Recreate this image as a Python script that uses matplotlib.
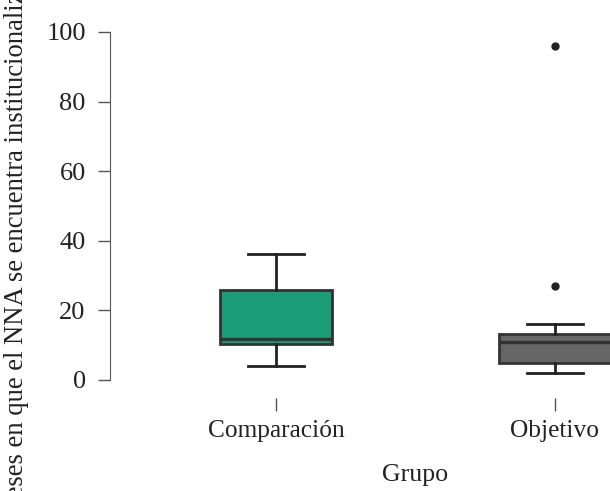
import matplotlib
matplotlib.use('Agg')
import matplotlib.pyplot as plt

# group summaries (months institutionalised)
grupos = ['Comparación', 'Objetivo']
colores = ['#1b9e77', '#666666']
stats = [
    dict(label='Comparación', whislo=4.0, q1=10.4, med=11.9, q3=25.9, whishi=36.2, fliers=[]),
    dict(label='Objetivo', whislo=2.0, q1=4.9, med=10.9, q3=13.2, whishi=16.1, fliers=[27.0, 96.0]),
]
yticks = [0, 20, 40, 60, 80, 100]

W, H = 610, 491
fig = plt.figure(figsize=(W / 100, H / 100), dpi=100)
plt.rcParams['font.family'] = ['Liberation Serif', 'DejaVu Serif']

# axes placed in pixel terms
left, right, top, bottom = 110, 610, 20, 398
ax = fig.add_axes([left / W, 1 - bottom / H, (right - left) / W, (bottom - top) / H])

bp = ax.bxp(stats, positions=[1, 2], widths=0.4, patch_artist=True,
            showfliers=True,
            boxprops=dict(edgecolor='#333333', linewidth=2),
            medianprops=dict(color='#333333', linewidth=2.5),
            whiskerprops=dict(color='#222222', linewidth=2),
            capprops=dict(color='#222222', linewidth=2),
            flierprops=dict(marker='o', markerfacecolor='#222222',
                            markeredgecolor='#222222', markersize=5))
for patch, c in zip(bp['boxes'], colores):
    patch.set_facecolor(c)
for cap in bp['caps']:
    xd = cap.get_xdata()
    mid = (xd[0] + xd[1]) / 2
    cap.set_xdata([mid - 0.1, mid + 0.1])

px_per_unit = (380 - 32) / 100
ax.set_ylim(-(bottom - 380) / px_per_unit, 100 + (32 - top) / px_per_unit)
xs = (555 - 276)
ax.set_xlim(1 - (276 - left) / xs, 2 + (right - 555) / xs)

ax.set_yticks(yticks)
ax.set_xticks([1, 2])
ax.set_xticklabels(grupos)
ax.spines['top'].set_visible(False)
ax.spines['right'].set_visible(False)
ax.spines['bottom'].set_visible(False)
ax.spines['left'].set_bounds(0, 100)
ax.spines['left'].set_color('#555555')
ax.tick_params(axis='both', length=9, width=1, color='#555555',
               labelcolor='#222222')
ax.tick_params(axis='y', pad=8.5, labelsize=19)
ax.tick_params(axis='x', pad=7, labelsize=18.3)
ax.patch.set_alpha(0)

fig.text(415 / W, 1 - 481 / H, 'Grupo', ha='center', va='baseline',
         fontsize=18.6, color='#222222')
fig.text(23 / W, 1 - 237 / H,
         'Meses en que el NNA se encuentra institucionalizado',
         rotation=90, rotation_mode='anchor', ha='center', va='baseline',
         fontsize=19.2, color='#222222')

fig.savefig('out.png', dpi=100)
